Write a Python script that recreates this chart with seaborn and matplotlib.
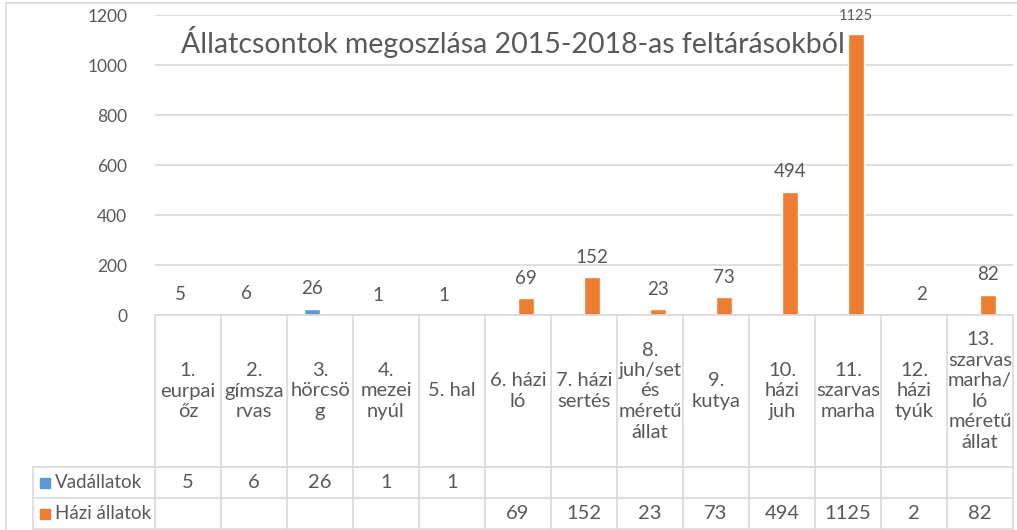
import numpy as np
import pandas as pd
import matplotlib
matplotlib.use("Agg")
import matplotlib.pyplot as plt
import matplotlib.transforms as mtransforms
from matplotlib.patches import Rectangle
import seaborn as sns

# %% data
kategoriak = ["1. eurpai őz", "2. gímszarvas", "3. hörcsög", "4. mezei nyúl", "5. hal",
              "6. házi ló", "7. házi sertés", "8. juh/set és méretű állat", "9. kutya",
              "10. házi juh", "11. szarvas marha", "12. házi tyúk",
              "13. szarvas marha/ló méretű állat"]
tabla_cimkek = ["1.\neurpai\nőz", "2.\ngímsza\nrvas", "3.\nhörcsö\ng", "4.\nmezei\nnyúl",
                "5. hal", "6. házi\nló", "7. házi\nsertés", "8.\njuh/set\nés\nméretű\nállat",
                "9.\nkutya", "10.\nházi\njuh", "11.\nszarvas\nmarha", "12.\nházi\ntyúk",
                "13.\nszarvas\nmarha/\nló\nméretű\nállat"]
vadallatok = [5, 6, 26, 1, 1, None, None, None, None, None, None, None, None]
hazi_allatok = [None, None, None, None, None, 69, 152, 23, 73, 494, 1125, 2, 82]
sorozatok = ["Vadállatok", "Házi állatok"]
cim = "Állatcsontok megoszlása 2015-2018-as feltárásokból"

sorok = []
for nev, ertekek in zip(sorozatok, [vadallatok, hazi_allatok]):
    for kat, v in zip(kategoriak, ertekek):
        if v is not None:
            sorok.append({"kategoria": kat, "sorozat": nev, "db": v})
df = pd.DataFrame(sorok)

# %% style
sns.set_theme(style="white")
plt.rcParams["font.family"] = ["Lato", "DejaVu Sans"]
SZURKE = "#595959"
VONAL = "#D9D9D9"
szinek = {"Vadállatok": "#5B9BD5", "Házi állatok": "#ED7D31"}

W, H = 1017, 530
fig = plt.figure(figsize=(W / 100, H / 100), dpi=100)
bal, jobb, also, felso = 155, 1013, 315, 15
ax = fig.add_axes([bal / W, 1 - also / H, (jobb - bal) / W, (also - felso) / H])

sns.barplot(data=df, x="kategoria", y="db", hue="sorozat", order=kategoriak,
            hue_order=sorozatok, palette=szinek, width=0.477, dodge=True,
            saturation=1, ax=ax, legend=False, errorbar=None)

for cont in ax.containers:
    cimkek = ax.bar_label(cont, fmt="%d", padding=8, fontsize=13.5, color=SZURKE)
    for c in cimkek:
        if c.get_text() == str(max(v for v in hazi_allatok if v)):
            c.set_fontsize(10.5)

ax.set_xlim(-0.5, len(kategoriak) - 0.5)
ax.set_ylim(0, 1200)
ax.set_yticks(np.arange(0, 1201, 200))
ax.tick_params(axis="y", labelsize=12.5, colors=SZURKE, length=0, pad=20)
ax.set_xticks([])
ax.set_xlabel("")
ax.set_ylabel("")
ax.yaxis.grid(True, color=VONAL, linewidth=1.2)
ax.set_axisbelow(True)
for s in ax.spines.values():
    s.set_visible(False)

ax.text((513 - bal) / (jobb - bal), (also - 42) / (also - felso), cim,
        transform=ax.transAxes, ha="center", va="center", fontsize=20.5, color=SZURKE)

# %% data table below the plot
trans = mtransforms.blended_transform_factory(ax.transData, ax.transAxes)
ph = also - felso
y_fej = -(467 - also) / ph
y_vad = -(498 - also) / ph
y_also = -(529 - also) / ph
x_leg = (33 - bal) / (jobb - bal)

kw = dict(color=VONAL, linewidth=1.2, clip_on=False)
ax.plot([0, 1], [0, 0], transform=ax.transAxes, **kw)
for yy in [y_fej, y_vad, y_also]:
    ax.plot([x_leg, 1], [yy, yy], transform=ax.transAxes, **kw)
for i in range(len(kategoriak) + 1):
    ax.plot([i - 0.5, i - 0.5], [0, y_also], transform=trans, **kw)
ax.plot([x_leg, x_leg], [y_fej, y_also], transform=ax.transAxes, **kw)

for i, lab in enumerate(tabla_cimkek):
    ax.text(i, y_fej / 2, lab, transform=trans, ha="center", va="center",
            fontsize=14.5, color=SZURKE, linespacing=1.25)

for yc, ertekek in zip([(y_fej + y_vad) / 2, (y_vad + y_also) / 2], [vadallatok, hazi_allatok]):
    for i, v in enumerate(ertekek):
        if v is not None:
            ax.text(i, yc, str(v), transform=trans, ha="center", va="center",
                    fontsize=14.5, color=SZURKE)

for yc, nev in zip([(y_fej + y_vad) / 2, (y_vad + y_also) / 2], sorozatok):
    yp = also - yc * ph
    fig.patches.append(Rectangle((40 / W, 1 - (yp + 5) / H), 10 / W, 10 / H,
                                 transform=fig.transFigure, color=szinek[nev]))
    fig.text(55 / W, 1 - yp / H, nev, ha="left", va="center", fontsize=13.5, color=SZURKE)

# outer chart border
fig.add_artist(plt.Line2D([6 / W, 6 / W], [0, 1 - 3 / H], transform=fig.transFigure,
                          color=VONAL, linewidth=1.2))
fig.add_artist(plt.Line2D([6 / W, 1], [1 - 3 / H, 1 - 3 / H], transform=fig.transFigure,
                          color=VONAL, linewidth=1.2))

fig.savefig("out.png", dpi=100)
